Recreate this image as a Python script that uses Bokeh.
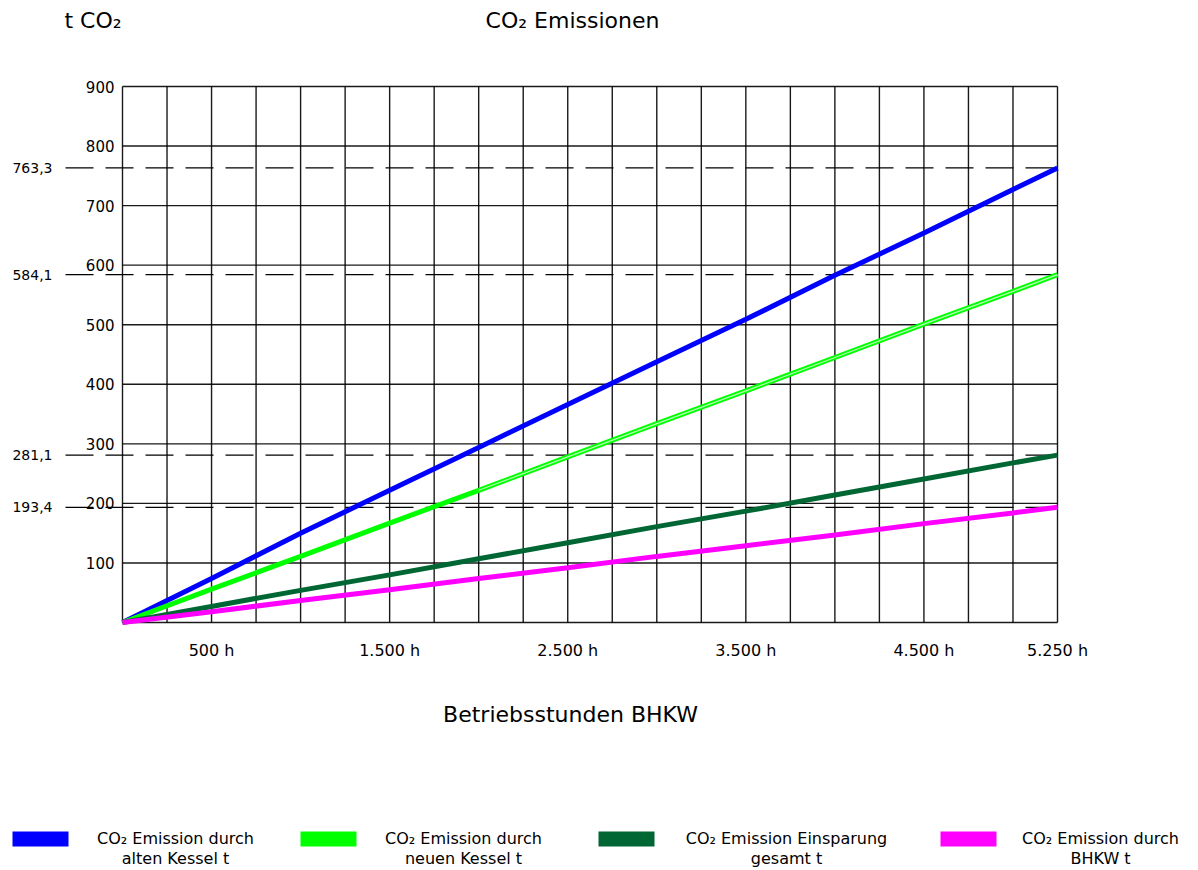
from bokeh.plotting import figure
from bokeh.models import Range1d, Label, BoxAnnotation, ColumnDataSource
from bokeh.core.properties import value
from bokeh.embed import file_html
from bokeh.resources import INLINE

# ---------------- data ----------------
hours = [0, 500, 1000, 1500, 2000, 2500, 3000, 3500, 4000, 4500, 5000, 5250]
alt_kessel = [0, 74, 150, 222, 294, 366, 438, 509, 583, 654, 727, 763.3]
neu_kessel = [0, 56, 111, 167, 222, 278, 334, 389, 445, 501, 556, 584.1]
einsparung = [0, 27, 54, 80, 107, 134, 161, 187, 214, 241, 268, 281.1]
bhkw = [0, 18, 37, 55, 74, 92, 111, 129, 147, 166, 184, 193.4]

series_cols = ["alt", "neu", "spar", "bhkw"]
series_colors = ["#0000ff", "#00ff00", "#006633", "#ff00ff"]
legend_line1 = ["CO₂ Emission durch", "CO₂ Emission durch",
                "CO₂ Emission Einsparung", "CO₂ Emission durch"]
legend_line2 = ["alten Kessel t", "neuen Kessel t", "gesamt t", "BHKW t"]

ref_values = [763.3, 584.1, 281.1, 193.4]
ref_labels = ["763,3", "584,1", "281,1", "193,4"]

x_ticks = [500, 1500, 2500, 3500, 4500, 5250]
x_tick_labels = ["500 h", "1.500 h", "2.500 h", "3.500 h", "4.500 h", "5.250 h"]
y_ticks = [100, 200, 300, 400, 500, 600, 700, 800, 900]
y_tick_labels = ["100", "200", "300", "400", "500", "600", "700", "800", "900"]
x_grid = list(range(0, 5251, 250))
y_grid = list(range(0, 901, 100))

title_text = "CO₂ Emissionen"
y_title = "t CO₂"
x_title = "Betriebsstunden BHKW"

FONT = "DejaVu Sans"

# ---------------- layout (page pixels) ----------------
W, H = 1196, 868
FL, FR, FT, FB = 122, 1057, 86, 622      # plot area
X0, X1, Y0, Y1 = 0, 5250, 0, 900
KX = (X1 - X0) / (FR - FL)
KY = (Y1 - Y0) / (FB - FT)


def xd(px):
    return X0 + (px - FL) * KX


def yd(py):
    return Y0 + (FB - py) * KY


p = figure(width=W, height=H, x_range=Range1d(xd(0), xd(W)), y_range=Range1d(yd(H), yd(0)),
           x_axis_type=None, y_axis_type=None, min_border=0,
           output_backend="svg", toolbar_location=None, title=None)
p.outline_line_color = None
p.background_fill_color = "white"
p.border_fill_color = "white"

TXT = dict(text_font=value(FONT), text_color="black")

# grid (also forms the plot border)
p.segment(x0=x_grid, y0=[Y0] * len(x_grid), x1=x_grid, y1=[Y1] * len(x_grid),
          line_color="black", line_width=1.4, line_alpha=0.9)
p.segment(x0=[X0] * len(y_grid), y0=y_grid, x1=[X1] * len(y_grid), y1=y_grid,
          line_color="black", line_width=1.4, line_alpha=0.9)

# dashed reference lines with their values
p.segment(x0=[xd(60)] * len(ref_values), y0=ref_values, x1=[X1] * len(ref_values),
          y1=ref_values, line_color="black", line_width=1.3, line_dash="28 12",
          line_dash_offset=35)
p.text(x=[X0] * len(ref_values), y=ref_values, text=ref_labels, x_offset=-70,
       text_align="right", text_baseline="middle", text_font_size="14px", **TXT)

# tick labels
p.text(x=[X0] * len(y_ticks), y=y_ticks, text=y_tick_labels, x_offset=-8,
       text_align="right", text_baseline="middle", text_font_size="15px", **TXT)
p.text(x=x_ticks, y=[Y0] * len(x_ticks), text=x_tick_labels, y_offset=28,
       text_align="center", text_baseline="middle", text_font_size="16px", **TXT)

# series
src = ColumnDataSource(dict(h=hours, alt=alt_kessel, neu=neu_kessel, spar=einsparung, bhkw=bhkw))
for col, color in zip(series_cols, series_colors):
    p.line("h", col, source=src, line_color=color, line_width=5)
# light core of the green line (as in the reference rendering)
p.line(hours[4:], neu_kessel[4:], line_color="#b8ffb8", line_width=1.2)


def label(px, py, text, size, align="center"):
    p.add_layout(Label(x=px, y=H - py, x_units="screen", y_units="screen", text=text,
                       text_align=align, text_baseline="middle", text_font=FONT,
                       text_font_size=size, text_color="black"))


# titles
label(64, 20, y_title, "22px", "left")
label(572, 20, title_text, "22px", "center")
label(570, 714, x_title, "22px", "center")

# legend
swatch_left = [12, 300, 598, 940]
text_center = [175, 463, 786, 1100]
for i in range(4):
    p.add_layout(BoxAnnotation(left=swatch_left[i], right=swatch_left[i] + 56,
                               top=H - 831, bottom=H - 846,
                               left_units="screen", right_units="screen",
                               top_units="screen", bottom_units="screen",
                               fill_color=series_colors[i], fill_alpha=1.0,
                               line_alpha=0))
    label(text_center[i], 838, legend_line1[i], "16px")
    label(text_center[i], 858, legend_line2[i], "16px")

open("out.html", "w").write(file_html(p, INLINE))
